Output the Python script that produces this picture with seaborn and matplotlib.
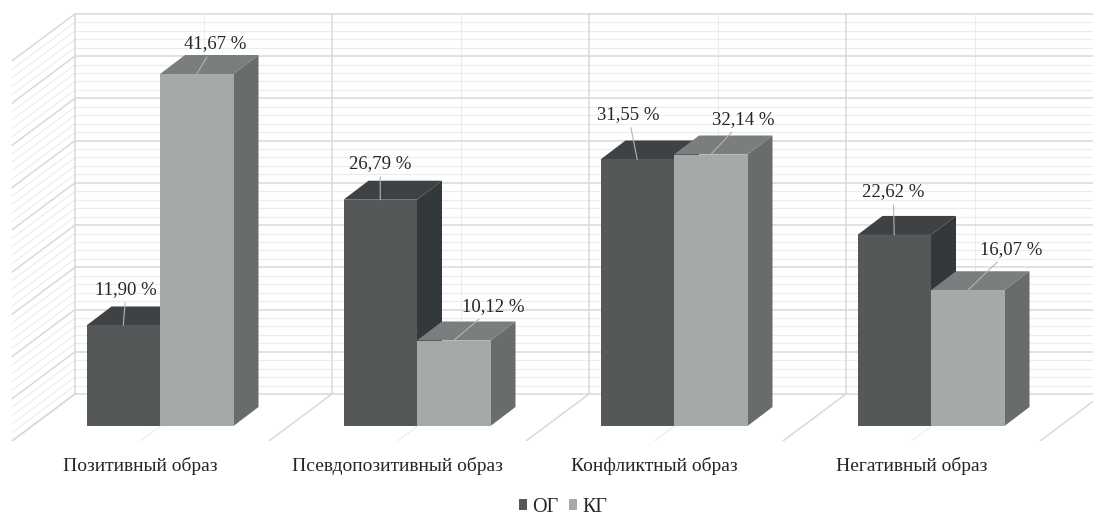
import matplotlib
matplotlib.use("Agg")
import matplotlib.pyplot as plt
import pandas as pd
import numpy as np
import seaborn as sns
from matplotlib.patches import Polygon

categories = ["Позитивный образ", "Псевдопозитивный образ", "Конфликтный образ", "Негативный образ"]
og_values = [11.90, 26.79, 31.55, 22.62]
kg_values = [41.67, 10.12, 32.14, 16.07]
og_labels = ["11,90 %", "26,79 %", "31,55 %", "22,62 %"]
kg_labels = ["41,67 %", "10,12 %", "32,14 %", "16,07 %"]

# label offsets from the top of each bar, in pixels
og_offsets = [(3, 36), (0, 36), (-9, 45), (-1, 43)]
kg_offsets = [(18, 30), (40, 34), (33, 35), (43, 41)]

W, H = 1093, 517
PX_X = 257.0     # pixels per category
PX_Y = 8.447     # pixels per percent
x0_px = 160.0    # first category centre
base_px = 426.0  # value 0 on the front plane
floor_px = 441.0 # bottom of the axes

dark = ["#555858", "#3f4244", "#33383a"]
light = ["#a6a9a9", "#7a7e7f", "#686c6c"]
major_c = "#d9d9d9"
minor_c = "#ececec"

sns.set_style("white")
plt.rcParams["font.family"] = ["Liberation Serif", "DejaVu Serif"]

df = pd.DataFrame({
    "cat": categories * 2,
    "group": ["ОГ"] * 4 + ["КГ"] * 4,
    "val": og_values + kg_values,
})

fig = plt.figure(figsize=(W / 100, H / 100), dpi=100)
ax = fig.add_axes([0, (H - floor_px) / H, 1, floor_px / H])

sns.barplot(data=df, x="cat", y="val", hue="group", hue_order=["ОГ", "КГ"],
            palette=[dark[0], light[0]], width=147 / PX_X, gap=0, saturation=1,
            errorbar=None, ax=ax, legend=False)

ax.set_xlim(-x0_px / PX_X, (W - x0_px) / PX_X)
ax.set_ylim(-(floor_px - base_px) / PX_Y, base_px / PX_Y)

# back wall, side wall and floor
wall_x = -85 / PX_X
wall_y = 32 / PX_Y
side_dx = 63 / PX_X
side_dy = 47 / PX_Y
right = ax.get_xlim()[1]

for v in np.arange(0, 46, 1):
    major = v % 5 == 0
    c = major_c if major else minor_c
    lw = 1.1 if major else 0.8
    z = 1.2 if major else 1
    ax.plot([wall_x, right], [wall_y + v, wall_y + v], color=c, lw=lw, zorder=z)
    ax.plot([wall_x - side_dx, wall_x], [wall_y + v - side_dy, wall_y + v], color=c, lw=lw, zorder=z)

for k in np.arange(0, 4.5, 0.5):
    major = k % 1 == 0
    c = major_c if major else minor_c
    lw = 1.1 if major else 0.8
    z = 1.2 if major else 1
    ax.plot([wall_x + k, wall_x + k], [wall_y, wall_y + 45], color=c, lw=lw, zorder=z)
    ax.plot([wall_x + k - side_dx, wall_x + k], [wall_y - side_dy, wall_y],
            color=c, lw=lw, zorder=z)

# depth of the bars
dx = 25 / PX_X
dy = 19 / PX_Y

for i, (cont, cols) in enumerate(zip(ax.containers, [dark, light])):
    z = 3 + 2 * i
    for b in cont:
        x1 = b.get_x()
        x2 = x1 + b.get_width()
        h = b.get_height()
        b.set_zorder(z + 1)
        b.set_edgecolor("none")
        top = Polygon([(x1, h), (x2, h), (x2 + dx, h + dy), (x1 + dx, h + dy)],
                      facecolor=cols[1], edgecolor="none", zorder=z)
        side = Polygon([(x2, 0), (x2 + dx, dy), (x2 + dx, h + dy), (x2, h)],
                       facecolor=cols[2], edgecolor="none", zorder=z)
        ax.add_patch(top)
        ax.add_patch(side)

# value labels with leader lines
for cont, labels, offsets in zip(ax.containers, [og_labels, kg_labels], [og_offsets, kg_offsets]):
    for b, lab, off in zip(cont, labels, offsets):
        ax.annotate(lab, xy=(b.get_x() + b.get_width() / 2, b.get_height()),
                    xytext=off, textcoords="offset pixels", ha="center", va="center",
                    fontsize=13.5, color="#262626", zorder=10,
                    arrowprops=dict(arrowstyle="-", color="#b4b4b4", lw=0.8,
                                    shrinkA=1, shrinkB=0))

for s in ax.spines.values():
    s.set_visible(False)
ax.set_xlabel("")
ax.set_ylabel("")
ax.set_yticks([])
ax.set_xticks(np.arange(4) - 19.5 / PX_X)
ax.set_xticklabels(categories)
ax.tick_params(axis="x", length=0, pad=11.5, labelsize=14, labelcolor="#262626")

handles = [cont[0] for cont in ax.containers]
ax.legend(handles, ["ОГ", "КГ"], ncols=2, loc="center",
          bbox_to_anchor=(563 / W, 1 - 507 / H), bbox_transform=fig.transFigure,
          frameon=False, fontsize=14.5, handlelength=0.43, handleheight=0.43,
          handletextpad=0.25, columnspacing=0.5, labelcolor="#262626",
          borderpad=0, borderaxespad=0)

fig.savefig("out.png", dpi=100)
